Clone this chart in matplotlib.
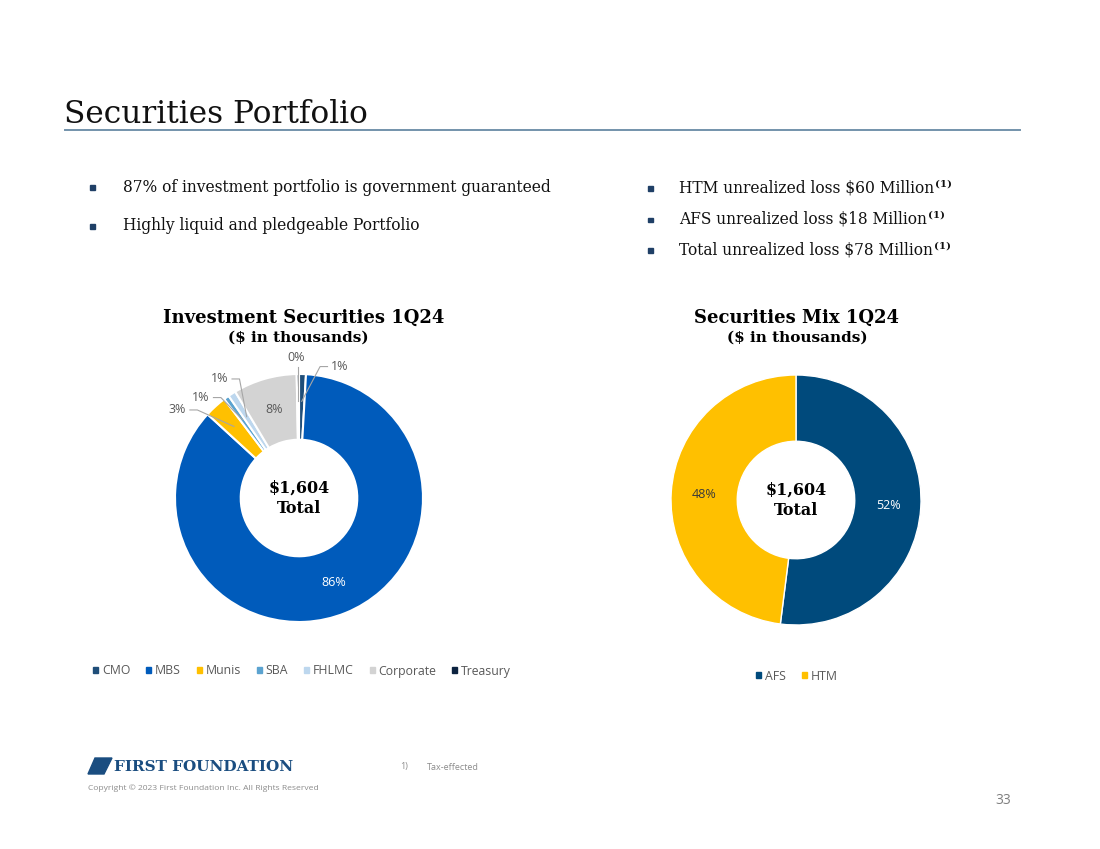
import numpy as np
import matplotlib
matplotlib.use("Agg")
import matplotlib.pyplot as plt
from matplotlib.patches import Rectangle, Polygon

# investment securities 1Q24, share of total (%)
inv_labels = ["CMO", "MBS", "Munis", "SBA", "FHLMC", "Corporate", "Treasury"]
inv_share = [0.9, 85.9, 2.9, 0.7, 1.0, 8.3, 0.3]
inv_pct_text = ["1%", "86%", "3%", "1%", "1%", "8%", "0%"]
inv_colors = ["#1f4e79", "#005bbb", "#ffc000", "#5ba3d0", "#bdd7ee", "#d3d3d3", "#0c2340"]

# securities mix 1Q24
mix_labels = ["AFS", "HTM"]
mix_share = [52, 48]
mix_pct_text = ["52%", "48%"]
mix_colors = ["#004a7c", "#ffc000"]

total_text = "$1,604\nTotal"

W, H = 1100, 849
SERIF = "DejaVu Serif"
SANS = "Open Sans"
GRAY = "#595959"

fig = plt.figure(figsize=(W / 100, H / 100), dpi=100)
fig.patch.set_facecolor("white")


def px(x, y):
    return x / W, 1 - y / H


def donut_axes(cx, cy, r, lim=1.7):
    half = r * lim
    left, top = px(cx - half, cy - half)
    ax = fig.add_axes([left, top - 2 * half / H, 2 * half / W, 2 * half / H])
    ax.set_xlim(-lim, lim)
    ax.set_ylim(-lim, lim)
    ax.set_aspect("equal")
    ax.axis("off")
    return ax


# title + rule
fig.text(*px(64, 123), "Securities Portfolio", family=SERIF, fontsize=22.5, color="#111111", va="baseline")
fig.add_artist(plt.Line2D([65 / W, 1020 / W], [1 - 129.5 / H] * 2, color="#7393ab", lw=1.4))

# bullets
bullets_left = ["87% of investment portfolio is government guaranteed", "Highly liquid and pledgeable Portfolio"]
bullets_right = ["HTM unrealized loss $60 Million", "AFS unrealized loss $18 Million",
                 "Total unrealized loss $78 Million"]
for i, t in enumerate(bullets_left):
    y = 187 + i * 39
    fig.add_artist(Rectangle(px(90, y + 3), 4.5 / W, 4.5 / H, color="#1f3f66", transform=fig.transFigure))
    fig.text(*px(123, y), t, family=SERIF, fontsize=11.2, color="#111111", va="center")
for i, t in enumerate(bullets_right):
    y = 188 + i * 31
    fig.add_artist(Rectangle(px(648, y + 3), 4.5 / W, 4.5 / H, color="#1f3f66", transform=fig.transFigure))
    tx = fig.text(*px(679, y), t, family=SERIF, fontsize=11.2, color="#111111", va="center")
    fig.canvas.draw()
    bb = tx.get_window_extent()
    fig.text(bb.x1 / W + 1 / W, 1 - (y - 4) / H, "(1)", family=SERIF, fontsize=7.5,
             weight="bold", color="#111111", va="center")

# left donut
axl = donut_axes(299, 498, 124)
wedges, _ = axl.pie(inv_share, colors=inv_colors, startangle=90, counterclock=False,
                    wedgeprops=dict(width=0.53, edgecolor="white", linewidth=1.5))
axl.set_xlim(-1.7, 1.7)
axl.set_ylim(-1.7, 1.7)
axl.text(0, 0.0, total_text, ha="center", va="center", family=SERIF, weight="bold",
         fontsize=11.5, linespacing=1.25)
fig.text(*px(304, 318), "Investment Securities 1Q24", ha="center", va="center",
         family=SERIF, weight="bold", fontsize=13)
fig.text(*px(298, 338), "($ in thousands)", ha="center", va="center",
         family=SERIF, weight="bold", fontsize=11)

# labels: inside for big wedges, outside with leaders for the small ones
outside_pos = {0: (0.33, 1.06), 2: (-0.98, 0.71), 3: (-0.79, 0.81), 4: (-0.64, 0.96), 6: (-0.02, 1.13)}
for i, w in enumerate(wedges):
    ang = np.deg2rad((w.theta1 + w.theta2) / 2)
    if i in outside_pos:
        tx, ty = outside_pos[i]
        axl.text(tx, ty, inv_pct_text[i], ha="center", va="center", family=SANS,
                 fontsize=9, color=GRAY)
        end = (0.78 * np.cos(ang), 0.78 * np.sin(ang))
        if i == 6:
            pts = [(end[0], ty - 0.07), end]
        else:
            side = -1 if tx > 0 else 1
            sx = tx + side * 0.1
            pts = [(sx, ty), (sx + side * 0.06, ty), end]
        axl.plot(*zip(*pts), color="#a6a6a6", lw=0.8, clip_on=False)
    else:
        rr = 0.74
        c = "white" if i == 1 else GRAY
        axl.text(rr * np.cos(ang), rr * np.sin(ang), inv_pct_text[i], ha="center", va="center",
                 family=SANS, fontsize=9, color=c)

handles = [Rectangle((0, 0), 1, 1, color=c) for c in inv_colors]
fig.legend(handles, inv_labels, loc="center", bbox_to_anchor=px(302, 671), ncol=7, frameon=False,
           prop=dict(family=SANS, size=8.8), labelcolor=GRAY, handlelength=0.42, handleheight=0.42,
           handletextpad=0.3, columnspacing=1.3)

# right donut
axr = donut_axes(796, 500, 125)
wr, _ = axr.pie(mix_share, colors=mix_colors, startangle=90, counterclock=False,
                wedgeprops=dict(width=0.53, edgecolor="white", linewidth=1.0))
axr.set_xlim(-1.7, 1.7)
axr.set_ylim(-1.7, 1.7)
axr.text(0, 0.0, total_text, ha="center", va="center", family=SERIF, weight="bold",
         fontsize=11.5, linespacing=1.25)
for i, w in enumerate(wr):
    ang = np.deg2rad((w.theta1 + w.theta2) / 2)
    c = "white" if i == 0 else "#3a3a3a"
    axr.text(0.74 * np.cos(ang), 0.74 * np.sin(ang), mix_pct_text[i], ha="center", va="center",
             family=SANS, fontsize=9, color=c)
fig.text(*px(797, 318), "Securities Mix 1Q24", ha="center", va="center",
         family=SERIF, weight="bold", fontsize=13)
fig.text(*px(797, 338), "($ in thousands)", ha="center", va="center",
         family=SERIF, weight="bold", fontsize=11)
handles = [Rectangle((0, 0), 1, 1, color=c) for c in mix_colors]
fig.legend(handles, mix_labels, loc="center", bbox_to_anchor=px(797, 676), ncol=2, frameon=False,
           prop=dict(family=SANS, size=8.8), labelcolor=GRAY, handlelength=0.42, handleheight=0.42,
           handletextpad=0.3, columnspacing=1.3)

# footer
logo = Polygon([px(95, 758), px(112, 758), px(104, 774), px(88, 774)], closed=True,
               color="#1a4d80", transform=fig.transFigure)
fig.add_artist(logo)
fig.text(*px(114, 767), "FIRST FOUNDATION", family=SERIF, weight="bold", fontsize=11,
         color="#1a4d80", va="center")
fig.text(*px(88, 788), "Copyright \u00a9 2023 First Foundation Inc. All Rights Reserved",
         family=SANS, fontsize=6.1, color="#8c8c8c", va="center")
fig.text(*px(400, 767), "1)", family=SANS, fontsize=6.5, color="#8c8c8c", va="center")
fig.text(*px(427, 767), "Tax-effected", family=SANS, fontsize=6.5, color="#8c8c8c", va="center")
fig.text(*px(1003, 800), "33", family=SANS, fontsize=10, color="#7f7f7f", ha="center", va="center")

fig.savefig("out.png", dpi=100)
